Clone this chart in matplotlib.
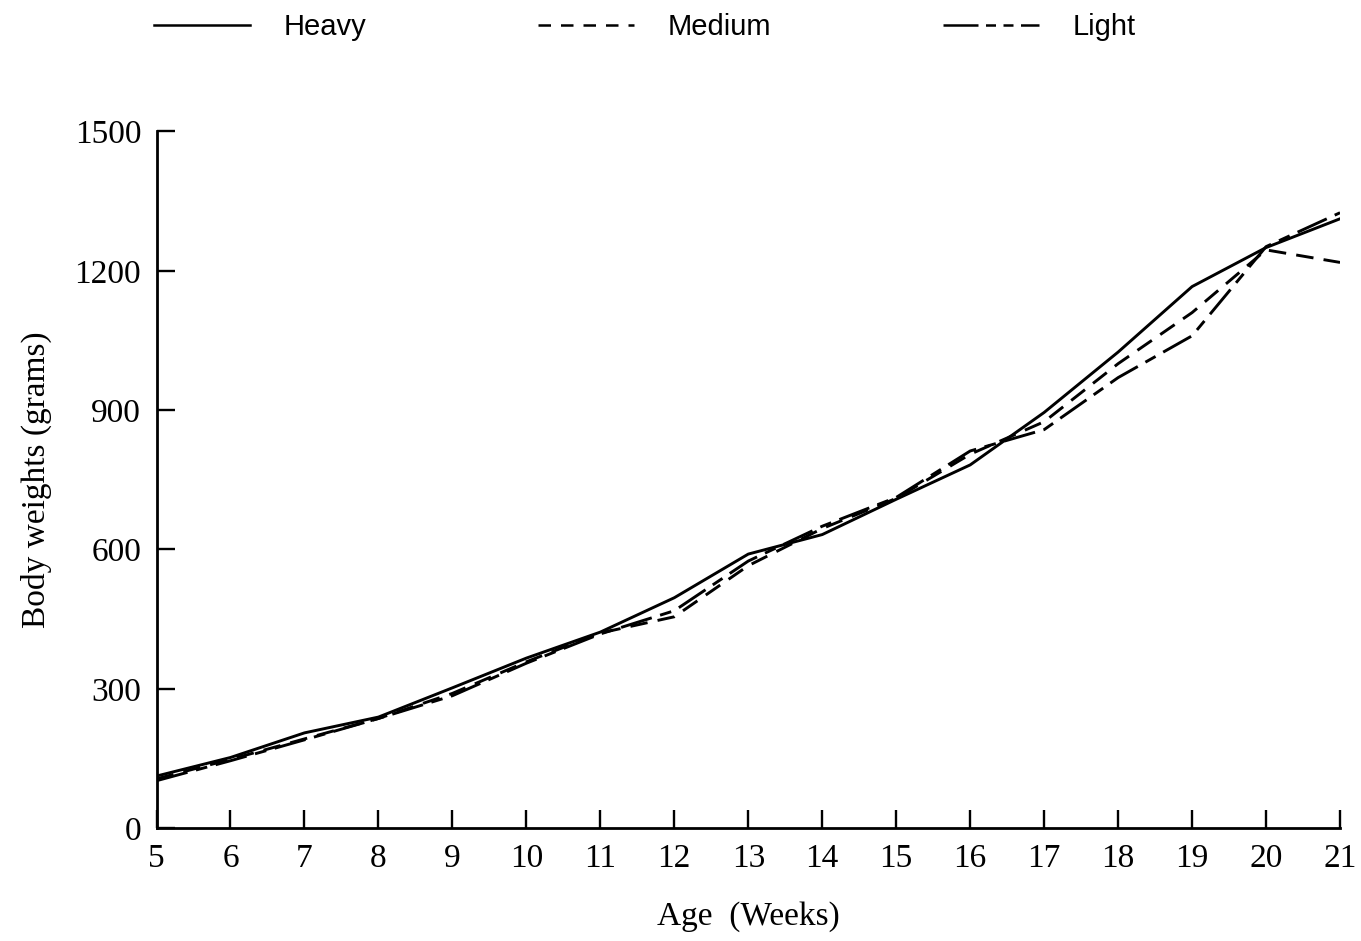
import numpy as np
import matplotlib
matplotlib.use("Agg")
import matplotlib.pyplot as plt
from matplotlib.lines import Line2D

# body weight (g) by age in weeks
weeks = [5, 6, 7, 8, 9, 10, 11, 12, 13, 14, 15, 16, 17, 18, 19, 20, 21]
heavy = [112, 152, 205, 239, 302, 366, 422, 496, 590, 632, 708, 782, 895, 1025, 1166, 1250, 1312]
medium = [106, 148, 192, 236, 290, 358, 420, 455, 565, 645, 710, 805, 875, 1000, 1110, 1245, 1218]
light = [102, 145, 190, 236, 285, 355, 418, 468, 575, 650, 712, 812, 858, 970, 1060, 1252, 1325]

yticks = [0, 300, 600, 900, 1200, 1500]

serif = "Liberation Serif"
sans = "Liberation Sans"

fig = plt.figure(figsize=(13.61, 9.41), dpi=100)
ax = fig.add_axes([0.1150, 0.120, 0.8696, 0.7403])

lw = 2.1
ax.plot(weeks, heavy, color='black', lw=lw, solid_joinstyle='round')
ax.plot(weeks, medium, color='black', lw=lw, linestyle=(0, (6, 3.5)))
ax.plot(weeks, light, color='black', lw=lw, linestyle=(0, (11, 3, 4, 3)))

ax.set_xlim(5, 21)
ax.set_ylim(0, 1500)
ax.set_xticks(weeks)
ax.set_yticks(yticks)
ax.spines['top'].set_visible(False)
ax.spines['right'].set_visible(False)
for s in ['left', 'bottom']:
    ax.spines[s].set_linewidth(2.0)
ax.tick_params(direction='in', length=13, width=1.7, labelsize=24, pad=11)
for lab in ax.get_xticklabels() + ax.get_yticklabels():
    lab.set_fontfamily(serif)

ax.set_xlabel('Age  (Weeks)', fontsize=24, family=serif, labelpad=20)
ax.set_ylabel('Body weights (grams)', fontsize=24, family=serif, labelpad=16)

handles = [
    Line2D([], [], color='black', lw=1.8),
    Line2D([], [], color='black', lw=1.8, linestyle=(0, (5, 4))),
    Line2D([], [], color='black', lw=1.8, linestyle=(0, (14, 3, 4, 3, 4, 3))),
]
fig.legend(handles, ['Heavy', 'Medium', 'Light'], loc='upper left',
           bbox_to_anchor=(0.094, 1.014), ncol=3, frameon=False,
           prop={'family': sans, 'size': 21}, handlelength=3.3,
           handletextpad=1.13, columnspacing=5.9)

fig.savefig('out.png', dpi=100)
